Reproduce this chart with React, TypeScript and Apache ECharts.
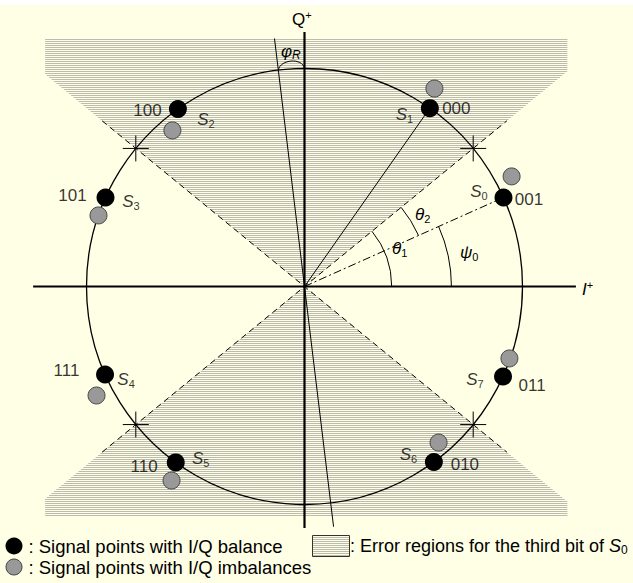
import React, { useEffect, useRef } from 'react';
import * as echarts from 'echarts';

const W = 633;
const H = 583;
const CX = 304.5;
const CY = 286.5;
const R = 218;
const FONT = '"Liberation Sans", Arial, sans-serif';
const CREAM = '#FFFFE6';
const HATCH = '#BBBBAF';

// ---------------- data (unit-circle coordinates, angles in degrees) ----------------
const signalIndex = [0, 1, 2, 3, 4, 5, 6, 7];
const bitLabels = ['001', '000', '100', '101', '111', '110', '010', '011'];
const balancedAngles = [24.1, 54.9, 125.5, 155.9, 203.8, 233.8, 306.4, 335.6];
const imbalancedI = [0.95, 0.596, -0.606, -0.945, -0.954, -0.61, 0.615, 0.94];
const imbalancedQ = [0.505, 0.908, 0.716, 0.326, -0.5, -0.89, -0.716, -0.33];
const boundaryAngles = [39.3, 140.7, 219.3, 320.7];
const boundaryLength = 1.2;
const errorRegionQ = [1.136, -1.055];
const errorRegionI = [-1.19, 1.206];
const errorBoundaryAngle = 39.3;
const iAxisRange = [-1.245, 1.245];
const qAxisRange = [-1.108, 1.167];
const rotatedAxisAngle = 96.9;
const rotatedAxisLengths = [1.146, 1.11];
const angleArcs = [
  { r: 0.4, from: 0, to: 39.3 },
  { r: 0.573, from: 24.1, to: 39.3 },
  { r: 0.674, from: 0, to: 24.1 },
];
const phiArcAngles = [90, 96.9];

// ---------------- layout (pixel offsets of labels) ----------------
const bitLabelOffsets = [[25.5, 2.5], [26.5, 0], [-30.5, 1], [-33, -1.5], [-38.5, -3.5], [-31.7, 4], [31, 3], [29, 8.5]];
const nameLabelOffsets = [[-24.5, -5.5], [-25.5, 6], [28, 10], [25.5, 4.5], [21, 5.5], [25, -3.5], [-25.5, -7.5], [-28, 3]];

const rad = (d: number) => (d * Math.PI) / 180;
const polar = (deg: number, r: number) => [r * Math.cos(rad(deg)), r * Math.sin(rad(deg))];

const subRich = (main: string, sub: string, italicMain: boolean, italicSub: boolean, size = 17, subSize = 11, sup = false) => ({
  text: `{m|${main}}{s|${sub}}`,
  rich: {
    m: { fontSize: size, fontFamily: FONT, fontStyle: italicMain ? 'italic' : 'normal', lineHeight: 20, fill: '#000', color: '#000' },
    s: { fontSize: subSize, fontFamily: FONT, fontStyle: italicSub ? 'italic' : 'normal', lineHeight: subSize, verticalAlign: sup ? 'top' : 'bottom', fill: '#000', color: '#000' },
  },
});

function buildOption() {
  const balanced = balancedAngles.map((a) => polar(a, 1));
  const imbalanced = imbalancedI.map((x, i) => [x, imbalancedQ[i]]);
  const line = (data: number[][], style: any, z = 3) => ({
    type: 'line', data, symbol: 'none', silent: true, lineStyle: style, z, animation: false,
  });

  const graphics: any[] = [];
  graphics.push({ type: 'rect', z: 100, shape: { x: 0, y: 0, width: W, height: 5 }, style: { fill: '#fff' }, silent: true });
  const addText = (x: number, y: number, style: any, align = 'left') =>
    graphics.push({ type: 'text', x, y, z: 100, silent: true, style: { ...style, align, verticalAlign: 'middle', textAlign: align, textVerticalAlign: 'middle' } });

  addText(292, 19, subRich('Q', '+', false, false, 17, 11, true));
  addText(582, 289, subRich('I', '+', true, false, 17, 11, true));
  addText(392, 248, subRich('θ', '1', true, false));
  addText(415, 214, subRich('θ', '2', true, false));
  addText(460, 252, subRich('ψ', '0', true, false));
  addText(281, 51, subRich('φ', 'R', true, true, 17, 12));

  // legend
  graphics.push({ type: 'circle', z: 100, shape: { cx: 14, cy: 546, r: 8.5 }, style: { fill: '#000' }, silent: true });
  addText(28.5, 546, { text: ': Signal points with I/Q balance', fontSize: 18.5, fontFamily: FONT, fill: '#000' });
  graphics.push({ type: 'circle', z: 100, shape: { cx: 14, cy: 567, r: 8 }, style: { fill: '#999', stroke: '#444', lineWidth: 1 }, silent: true });
  addText(28.5, 567, { text: ': Signal points with I/Q imbalances', fontSize: 18.5, fontFamily: FONT, fill: '#000' });
  graphics.push({ type: 'rect', z: 100, shape: { x: 312.5, y: 535.5, width: 37, height: 21 }, style: { fill: CREAM, stroke: '#333', lineWidth: 1 }, silent: true });
  for (let y = 537.5; y < 556; y += 2) {
    graphics.push({ type: 'line', z: 101, shape: { x1: 313, y1: y, x2: 349, y2: y }, style: { stroke: HATCH, lineWidth: 1 }, silent: true });
  }
  addText(350, 546, {
    text: ': Error regions for the third bit of {m|S}{s|0}',
    fontSize: 18, fontFamily: FONT, fill: '#000',
    rich: {
      m: { fontSize: 18, fontFamily: FONT, fontStyle: 'italic', lineHeight: 20, fill: '#000' },
      s: { fontSize: 12, fontFamily: FONT, lineHeight: 12, verticalAlign: 'bottom', fill: '#000' },
    },
  });

  const series: any[] = [
    {
      type: 'custom', silent: true, z: 1,
      data: errorRegionQ.map(() => [0, 0]),
      renderItem: (params: any, api: any) => {
        const edgeQ = errorRegionQ[params.dataIndex];
        const o = api.coord([0, 0]);
        const e = api.coord([0, edgeQ]);
        const unit = api.size([1, 1]);
        const tanA = Math.tan(rad(errorBoundaryAngle));
        const xl = api.coord([errorRegionI[0], 0])[0];
        const xr = api.coord([errorRegionI[1], 0])[0];
        const y0 = Math.min(o[1], e[1]);
        const y1 = Math.max(o[1], e[1]);
        const children: any[] = [];
        for (let py = Math.round(y0); py <= y1; py += 2) {
          const yy = py + 0.5;
          const q = Math.abs(o[1] - yy) / unit[1];
          const hw = (q / tanA) * unit[0];
          const a = Math.max(xl, o[0] - hw);
          const b = Math.min(xr, o[0] + hw);
          if (b > a) children.push({ type: 'line', shape: { x1: a, y1: yy, x2: b, y2: yy }, style: { stroke: HATCH, lineWidth: 1 } });
        }
        return { type: 'group', children };
      },
    },
    {
      type: 'custom', silent: true, z: 2, data: [[0, 0]],
      renderItem: (params: any, api: any) => {
        const c = api.coord([0, 0]);
        const r = api.size([1, 0])[0];
        return { type: 'circle', shape: { cx: c[0], cy: c[1], r }, style: { fill: 'none', stroke: '#000', lineWidth: 1.3 } };
      },
    },
    line([[iAxisRange[0], 0], [iAxisRange[1], 0]], { color: '#000', width: 2.2 }),
    line([[0, qAxisRange[0]], [0, qAxisRange[1]]], { color: '#000', width: 2.2 }),
    line([polar(boundaryAngles[2], boundaryLength), [0, 0], polar(boundaryAngles[0], boundaryLength)], { color: '#000', width: 1, type: [6, 4] }),
    line([polar(boundaryAngles[1], boundaryLength), [0, 0], polar(boundaryAngles[3], boundaryLength)], { color: '#000', width: 1, type: [6, 4] }),
    line([polar(rotatedAxisAngle, rotatedAxisLengths[0]), [0, 0], polar(rotatedAxisAngle + 180, rotatedAxisLengths[1])], { color: '#000', width: 1 }),
    line([[0, 0], balanced[1]], { color: '#000', width: 1 }),
    line([[0, 0], balanced[0]], { color: '#000', width: 1, type: [8, 3, 2, 3] }),
    {
      type: 'custom', silent: true, z: 3, data: angleArcs.map(() => [0, 0]),
      renderItem: (params: any, api: any) => {
        const a = angleArcs[params.dataIndex];
        const c = api.coord([0, 0]);
        const r = api.size([a.r, 0])[0];
        return {
          type: 'arc',
          shape: { cx: c[0], cy: c[1], r, startAngle: -rad(a.to), endAngle: -rad(a.from), clockwise: true },
          style: { fill: 'none', stroke: '#000', lineWidth: 1 },
        };
      },
    },
    {
      type: 'custom', silent: true, z: 3, data: [[0, 0]],
      renderItem: (params: any, api: any) => {
        const p1 = api.coord(polar(phiArcAngles[1], 1));
        const p2 = api.coord(polar(phiArcAngles[0], 1));
        return {
          type: 'bezierCurve',
          shape: { x1: p1[0], y1: p1[1], x2: p2[0], y2: p2[1], cpx1: p1[0] + 2, cpy1: p1[1] - 11, cpx2: p2[0] - 2, cpy2: p2[1] - 11 },
          style: { fill: 'none', stroke: '#000', lineWidth: 1 },
        };
      },
    },
    {
      type: 'custom', silent: true, z: 3, data: boundaryAngles.map(() => [0, 0]),
      renderItem: (params: any, api: any) => {
        const p = api.coord(polar(boundaryAngles[params.dataIndex], 1));
        const s = 13;
        return {
          type: 'group',
          children: [
            { type: 'line', shape: { x1: p[0] - s, y1: p[1], x2: p[0] + s, y2: p[1] }, style: { stroke: '#000', lineWidth: 1 } },
            { type: 'line', shape: { x1: p[0], y1: p[1] - s, x2: p[0], y2: p[1] + s }, style: { stroke: '#000', lineWidth: 1 } },
          ],
        };
      },
    },
    {
      type: 'scatter', silent: true, z: 4, data: imbalanced, symbolSize: 17,
      itemStyle: { color: '#999999', borderColor: '#444', borderWidth: 1, opacity: 1 },
    },
    {
      type: 'scatter', silent: true, z: 5, data: balanced, symbolSize: 18,
      itemStyle: { color: '#000', opacity: 1 },
    },
    {
      type: 'scatter', silent: true, z: 6, symbolSize: 1,
      itemStyle: { color: 'rgba(0,0,0,0)' },
      data: balanced.map((p, i) => ({ value: p, label: { offset: bitLabelOffsets[i] } })),
      label: {
        show: true, position: 'inside', color: '#000', fontSize: 17, fontFamily: FONT,
        formatter: (p: any) => bitLabels[p.dataIndex],
      },
    },
    {
      type: 'scatter', silent: true, z: 6, symbolSize: 1,
      itemStyle: { color: 'rgba(0,0,0,0)' },
      data: balanced.map((p, i) => ({ value: p, label: { offset: nameLabelOffsets[i] } })),
      label: {
        show: true, position: 'inside', color: '#000',
        formatter: (p: any) => `{m|S}{s|${signalIndex[p.dataIndex]}}`,
        rich: {
          m: { fontSize: 17, fontFamily: FONT, fontStyle: 'italic', lineHeight: 20, color: '#000' },
          s: { fontSize: 11, fontFamily: FONT, lineHeight: 11, verticalAlign: 'bottom', color: '#000' },
        },
      },
    },
  ];

  return {
    animation: false,
    backgroundColor: CREAM,
    grid: { left: 0, top: 0, right: 0, bottom: 0 },
    xAxis: { type: 'value', min: -CX / R, max: (W - CX) / R, show: false },
    yAxis: { type: 'value', min: -(H - CY) / R, max: CY / R, show: false },
    graphic: graphics,
    series,
  };
}

export default function App() {
  const ref = useRef<HTMLDivElement>(null);
  useEffect(() => {
    document.body.style.margin = '0';
    if (!ref.current) return;
    const chart = echarts.init(ref.current, undefined, { renderer: 'svg' });
    chart.setOption(buildOption() as any);
    return () => chart.dispose();
  }, []);
  return <div ref={ref} style={{ width: W, height: H }} />;
}
